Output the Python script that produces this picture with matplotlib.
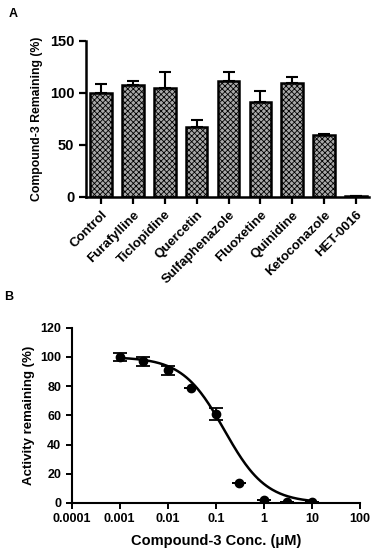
import matplotlib
matplotlib.use('Agg')
import matplotlib.pyplot as plt
import numpy as np

plt.rcParams['font.family'] = ['Liberation Sans', 'DejaVu Sans']
plt.rcParams['font.weight'] = 'bold'
plt.rcParams['hatch.linewidth'] = 0.6

# Panel A: compound-3 remaining with inhibitors
inhibidores = ['Control', 'Furafylline', 'Ticlopidine', 'Quercetin', 'Sulfaphenazole',
               'Fluoxetine', 'Quinidine', 'Ketoconazole', 'HET-0016']
restante = [100, 107, 105, 67.5, 111, 91, 109, 59, 0.5]
error_a = [8.5, 4.5, 15, 6.5, 8.5, 10.5, 6, 1, 0]

# Panel B: dose response
conc = [0.001, 0.003, 0.01, 0.03, 0.1, 0.3, 1, 3, 10]
actividad = [100, 97, 91, 79, 61, 13.5, 2, 1, 0.5]
error_b = [3, 3, 3, 0, 4, 0, 0, 0, 0]
# parametros del ajuste (Hill)
top, bottom, ic50, hill = 100.0, 0.0, 0.15, 1.0

fig = plt.figure(figsize=(3.77, 5.5), dpi=100)

''' Panel A '''
ax1 = fig.add_axes([0.228, 0.642, 0.752, 0.284])
x = np.arange(len(inhibidores))
ax1.bar(x, restante, width=0.68, color='#a8a8a8', edgecolor='black',
        linewidth=1.8, hatch='xxxxxx', zorder=2)
ax1.errorbar(x, restante, yerr=[np.zeros(len(error_a)), error_a], fmt='none',
             ecolor='black', elinewidth=1.5, capsize=4, capthick=1.5, zorder=1)
ax1.set_xlim(-0.47, 8.42)
ax1.set_ylim(0, 150)
ax1.set_yticks([0, 50, 100, 150])
ax1.set_xticks(x)
ax1.set_xticklabels(inhibidores, rotation=45, ha='right', rotation_mode='anchor',
                    fontsize=9.5, fontweight='bold')
ax1.tick_params(axis='y', labelsize=10.5)
ax1.set_ylabel('Compound-3 Remaining (%)', fontsize=8.8, fontweight='bold', labelpad=5)
for s in ['top', 'right']:
    ax1.spines[s].set_visible(False)
for s in ['left', 'bottom']:
    ax1.spines[s].set_linewidth(1.8)
ax1.tick_params(width=1.6, length=5)
fig.text(0.022, 0.975, 'A', fontsize=9, fontweight='bold', va='center')

''' Panel B '''
ax2 = fig.add_axes([0.19, 0.0855, 0.765, 0.3185])
xc = np.logspace(-3, 1, 200)
yc = bottom + (top - bottom) / (1 + (xc / ic50) ** hill)
ax2.plot(xc, yc, 'k-', linewidth=1.8)
ax2.errorbar(conc, actividad, yerr=error_b, fmt='o', color='black', markersize=6,
             elinewidth=1.3, capsize=5, capthick=1.3)
ax2.set_xscale('log')
ax2.set_xlim(0.0001, 100)
ax2.set_ylim(0, 120)
ax2.set_yticks(np.arange(0, 121, 20))
ax2.set_xticks([0.0001, 0.001, 0.01, 0.1, 1, 10, 100])
ax2.set_xticklabels(['0.0001', '0.001', '0.01', '0.1', '1', '10', '100'])
ax2.minorticks_off()
ax2.set_ylabel('Activity remaining (%)', fontsize=9.5, fontweight='bold', labelpad=4)
ax2.set_xlabel('Compound-3 Conc. (\u03bcM)', fontsize=10.5, fontweight='bold', labelpad=6)
for s in ['top', 'right']:
    ax2.spines[s].set_visible(False)
for s in ['left', 'bottom']:
    ax2.spines[s].set_linewidth(1.5)
ax2.tick_params(width=1.4, length=4, labelsize=9)
fig.text(0.01, 0.46, 'B', fontsize=9, fontweight='bold', va='center')

fig.savefig('out.png', dpi=100)
